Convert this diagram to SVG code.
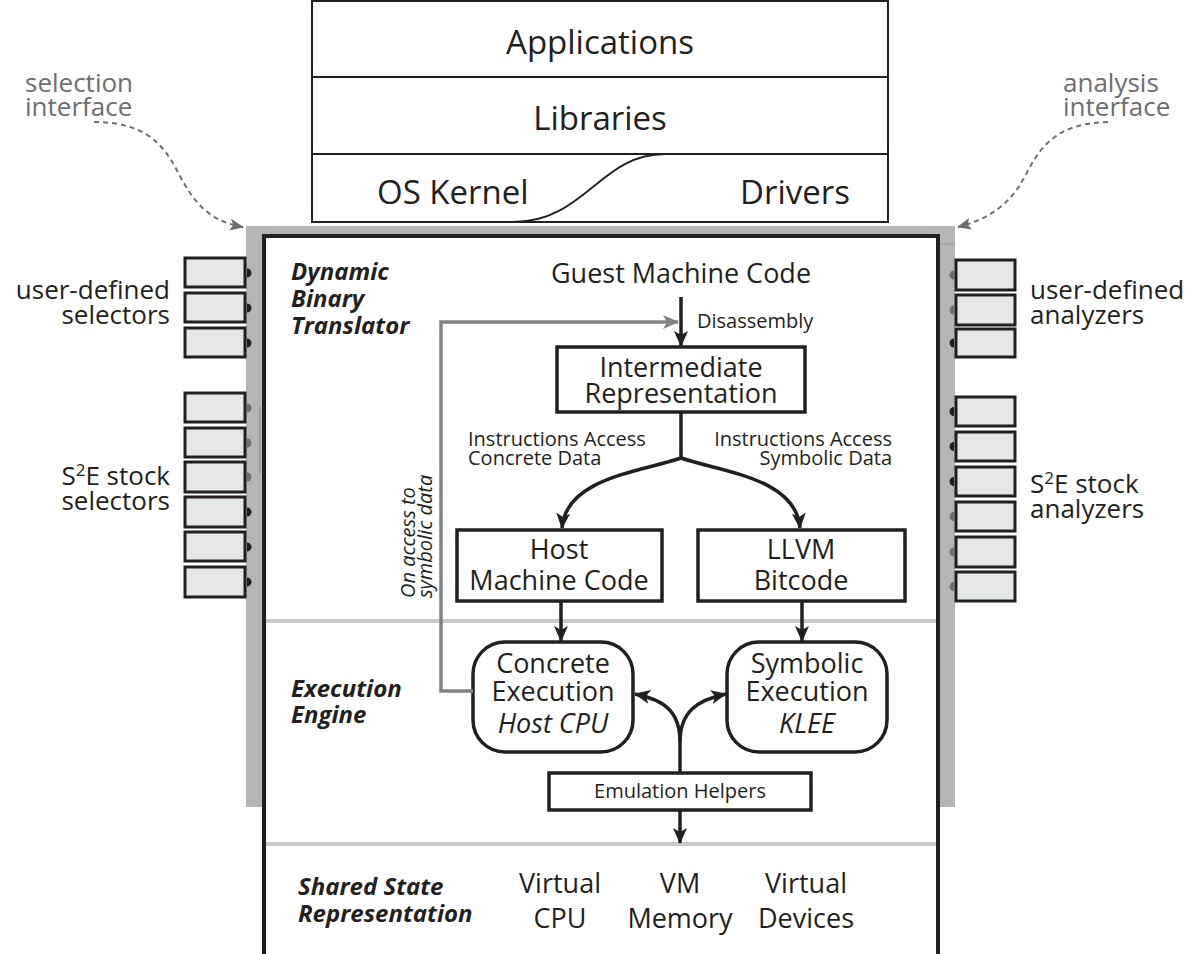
<svg xmlns="http://www.w3.org/2000/svg" width="1202" height="954" viewBox="0 0 1202 954">
<style>
text{font-family:"Open Sans","Noto Sans","Liberation Sans",sans-serif;fill:#231f20}
.big{font-size:33px}
.lbl{font-size:27px}
.sm{font-size:20px}
.side{font-size:26px}
.iface{font-size:26px;fill:#6d6e71}
.bi{font-weight:bold;font-style:italic;font-size:24px}
.it{font-style:italic}
.box{fill:#fff;stroke:#231f20;stroke-width:3.5}
.plug{fill:#e6e7e8;stroke:#231f20;stroke-width:3}
.sep{stroke:#c8c8c8;stroke-width:4}
.conn{fill:none;stroke:#231f20;stroke-width:3.5}
.gconn{fill:none;stroke:#808285;stroke-width:3.5}
.dash{fill:none;stroke:#6d6e71;stroke-width:2;stroke-dasharray:5 4}
.kb{fill:#231f20}
.kg{fill:#6d6e71}
</style>
<defs>
<marker id="ah" viewBox="0 0 16 14" refX="15" refY="7" markerUnits="userSpaceOnUse" markerWidth="16" markerHeight="14" orient="auto"><path d="M0,0 L16,7 L0,14 L4,7 z" fill="#231f20"/></marker>
<marker id="ahg" viewBox="0 0 16 14" refX="15" refY="7" markerUnits="userSpaceOnUse" markerWidth="16" markerHeight="14" orient="auto"><path d="M0,0 L16,7 L0,14 L4,7 z" fill="#808285"/></marker>
<marker id="ahd" viewBox="0 0 14 12" refX="13" refY="6" markerUnits="userSpaceOnUse" markerWidth="14" markerHeight="12" orient="auto"><path d="M0,0 L14,6 L0,12 L3,6 z" fill="#6d6e71"/></marker>
</defs>

<g id="software-stack">
<rect x="312" y="1" width="576" height="221" fill="#fff" stroke="#231f20" stroke-width="2"/>
<line x1="312" y1="77" x2="888" y2="77" stroke="#231f20" stroke-width="2"/>
<line x1="312" y1="154" x2="888" y2="154" stroke="#231f20" stroke-width="2"/>
<path d="M513,222 C585,222 600,154 665,154" fill="none" stroke="#231f20" stroke-width="1.8"/>
<text class="big" x="600" y="54" text-anchor="middle">Applications</text>
<text class="big" x="600" y="130" text-anchor="middle">Libraries</text>
<text class="big" x="377" y="204">OS Kernel</text>
<text class="big" x="795" y="204" text-anchor="middle">Drivers</text>
</g>

<g id="frame">
<rect x="246" y="226" width="709" height="8" fill="#b5b5b5"/>
<rect x="246" y="226" width="16" height="581" fill="#b5b5b5"/>
<rect x="940" y="226" width="15" height="581" fill="#b5b5b5"/>
<line x1="260" y1="407" x2="260" y2="473" stroke="#a0a0a0" stroke-width="2"/>
<line x1="940" y1="244" x2="955" y2="244" stroke="#999" stroke-width="1"/>
<path d="M264,960 L264,236 L938,236 L938,960" fill="#fff" stroke="#231f20" stroke-width="4"/>
<line class="sep" x1="266" y1="621" x2="936" y2="621"/>
<line class="sep" x1="266" y1="844" x2="936" y2="844"/>
</g>

<g id="selection-interface">
<text class="iface" x="25" y="92">selection</text>
<text class="iface" x="25" y="116">interface</text>
<path class="dash" d="M94,122 C160,122 170,160 185,185 C200,210 215,222 243,227" marker-end="url(#ahd)"/>
</g>
<g id="analysis-interface">
<text class="iface" x="1063" y="92">analysis</text>
<text class="iface" x="1063" y="116">interface</text>
<path class="dash" d="M1108,122 C1045,123 1035,160 1020,185 C1005,208 985,220 958,227" marker-end="url(#ahd)"/>
</g>

<g id="user-defined-selectors">
<text class="side" x="170" y="299" text-anchor="end">user-defined</text>
<text class="side" x="170" y="324" text-anchor="end">selectors</text>
<rect class="plug" x="185" y="258" width="60" height="29"/>
<rect class="plug" x="185" y="293" width="60" height="29"/>
<rect class="plug" x="185" y="328" width="60" height="29"/>
<path class="kb" d="M247,268.5 a4.5,4.5 0 0 1 0,9 z M247,303.5 a4.5,4.5 0 0 1 0,9 z M247,338.5 a4.5,4.5 0 0 1 0,9 z"/>
</g>
<g id="stock-selectors">
<text class="side" x="170" y="485" text-anchor="end">S<tspan dy="-9" font-size="17">2</tspan><tspan dy="9">E stock</tspan></text>
<text class="side" x="170" y="510" text-anchor="end">selectors</text>
<rect class="plug" x="185" y="393" width="60" height="29"/>
<rect class="plug" x="185" y="428" width="60" height="29"/>
<rect class="plug" x="185" y="462" width="60" height="30"/>
<rect class="plug" x="185" y="497" width="60" height="30"/>
<rect class="plug" x="185" y="532" width="60" height="29"/>
<rect class="plug" x="185" y="567" width="60" height="30"/>
<path class="kg" d="M247,403.5 a4.5,4.5 0 0 1 0,9 z M247,438.5 a4.5,4.5 0 0 1 0,9 z M247,472.5 a4.5,4.5 0 0 1 0,9 z"/>
<path class="kb" d="M247,507.5 a4.5,4.5 0 0 1 0,9 z M247,542.5 a4.5,4.5 0 0 1 0,9 z M247,577.5 a4.5,4.5 0 0 1 0,9 z"/>
</g>

<g id="user-defined-analyzers">
<text class="side" x="1030" y="299">user-defined</text>
<text class="side" x="1030" y="324">analyzers</text>
<rect class="plug" x="956" y="260" width="59" height="30"/>
<rect class="plug" x="956" y="295" width="59" height="30"/>
<rect class="plug" x="956" y="329" width="59" height="28"/>
<path class="kg" d="M954,270.5 a4.5,4.5 0 0 0 0,9 z M954,305.5 a4.5,4.5 0 0 0 0,9 z"/>
<path class="kb" d="M954,338.5 a4.5,4.5 0 0 0 0,9 z"/>
</g>
<g id="stock-analyzers">
<text class="side" x="1030" y="493">S<tspan dy="-9" font-size="17">2</tspan><tspan dy="9">E stock</tspan></text>
<text class="side" x="1030" y="518">analyzers</text>
<rect class="plug" x="956" y="397" width="59" height="29"/>
<rect class="plug" x="956" y="432" width="59" height="29"/>
<rect class="plug" x="956" y="467" width="59" height="29"/>
<rect class="plug" x="956" y="502" width="59" height="29"/>
<rect class="plug" x="956" y="537" width="59" height="30"/>
<rect class="plug" x="956" y="572" width="59" height="29"/>
<path class="kb" d="M954,407 a4.5,4.5 0 0 0 0,9 z M954,442 a4.5,4.5 0 0 0 0,9 z M954,477 a4.5,4.5 0 0 0 0,9 z"/>
<path class="kg" d="M954,512 a4.5,4.5 0 0 0 0,9 z M954,547.5 a4.5,4.5 0 0 0 0,9 z M954,582 a4.5,4.5 0 0 0 0,9 z"/>
</g>

<g id="layer-labels">
<text class="bi" x="291" y="280">Dynamic</text>
<text class="bi" x="291" y="307">Binary</text>
<text class="bi" x="291" y="334">Translator</text>
<text class="bi" x="291" y="697">Execution</text>
<text class="bi" x="291" y="723">Engine</text>
<text class="bi" x="298" y="895">Shared State</text>
<text class="bi" x="298" y="922">Representation</text>
</g>

<g id="guest-code">
<text class="lbl" x="681" y="283" text-anchor="middle">Guest Machine Code</text>
</g>
<g id="ir">
<rect class="box" x="557" y="347" width="248" height="65"/>
<text class="lbl" x="681" y="377" text-anchor="middle">Intermediate</text>
<text class="lbl" x="681" y="403" text-anchor="middle">Representation</text>
</g>
<g id="host-code">
<rect class="box" x="457" y="530" width="205" height="71"/>
<text class="lbl" x="559" y="559" text-anchor="middle">Host</text>
<text class="lbl" x="559" y="590" text-anchor="middle">Machine Code</text>
</g>
<g id="llvm">
<rect class="box" x="698" y="530" width="207" height="71"/>
<text class="lbl" x="801" y="559" text-anchor="middle">LLVM</text>
<text class="lbl" x="801" y="590" text-anchor="middle">Bitcode</text>
</g>
<g id="concrete">
<rect class="box" x="473" y="642" width="160" height="110" rx="32"/>
<text class="lbl" x="553" y="673" text-anchor="middle">Concrete</text>
<text class="lbl" x="553" y="701" text-anchor="middle">Execution</text>
<text class="lbl it" x="553" y="733" text-anchor="middle">Host CPU</text>
</g>
<g id="symbolic">
<rect class="box" x="727" y="642" width="160" height="110" rx="32"/>
<text class="lbl" x="807" y="673" text-anchor="middle">Symbolic</text>
<text class="lbl" x="807" y="701" text-anchor="middle">Execution</text>
<text class="lbl it" x="807" y="733" text-anchor="middle">KLEE</text>
</g>
<g id="emulation-helpers">
<rect class="box" x="549" y="773" width="262" height="37"/>
<text class="sm" x="680" y="798" text-anchor="middle">Emulation Helpers</text>
</g>
<g id="shared-state">
<text class="lbl" x="560" y="893" text-anchor="middle">Virtual</text>
<text class="lbl" x="560" y="928" text-anchor="middle">CPU</text>
<text class="lbl" x="680" y="893" text-anchor="middle">VM</text>
<text class="lbl" x="680" y="928" text-anchor="middle">Memory</text>
<text class="lbl" x="806" y="893" text-anchor="middle">Virtual</text>
<text class="lbl" x="806" y="928" text-anchor="middle">Devices</text>
</g>

<g id="connectors">
<path class="gconn" d="M473,691 L441,691 L441,322 L678,322" marker-end="url(#ahg)"/>
<text class="sm it" transform="translate(415,598) rotate(-90)">On access to</text>
<text class="sm it" transform="translate(432,598) rotate(-90)">symbolic data</text>
<path class="conn" d="M681,297 L681,346" marker-end="url(#ah)"/>
<text class="sm" x="697" y="328">Disassembly</text>
<path class="conn" d="M681,412 L681,458"/>
<path class="conn" d="M681,458 C640,472 566,478 562,528" marker-end="url(#ah)"/>
<path class="conn" d="M681,458 C722,472 796,478 800,528" marker-end="url(#ah)"/>
<text class="sm" x="468" y="446">Instructions Access</text>
<text class="sm" x="468" y="465">Concrete Data</text>
<text class="sm" x="892" y="446" text-anchor="end">Instructions Access</text>
<text class="sm" x="892" y="465" text-anchor="end">Symbolic Data</text>
<path class="conn" d="M561,601 L561,641" marker-end="url(#ah)"/>
<path class="conn" d="M802,601 L802,641" marker-end="url(#ah)"/>
<path class="conn" d="M680,773 L680,742"/>
<path class="conn" d="M680,742 C680,712 665,700 635,694" marker-end="url(#ah)"/>
<path class="conn" d="M680,742 C680,712 697,700 726,694" marker-end="url(#ah)"/>
<path class="conn" d="M680,810 L680,843" marker-end="url(#ah)"/>
</g>
</svg>
